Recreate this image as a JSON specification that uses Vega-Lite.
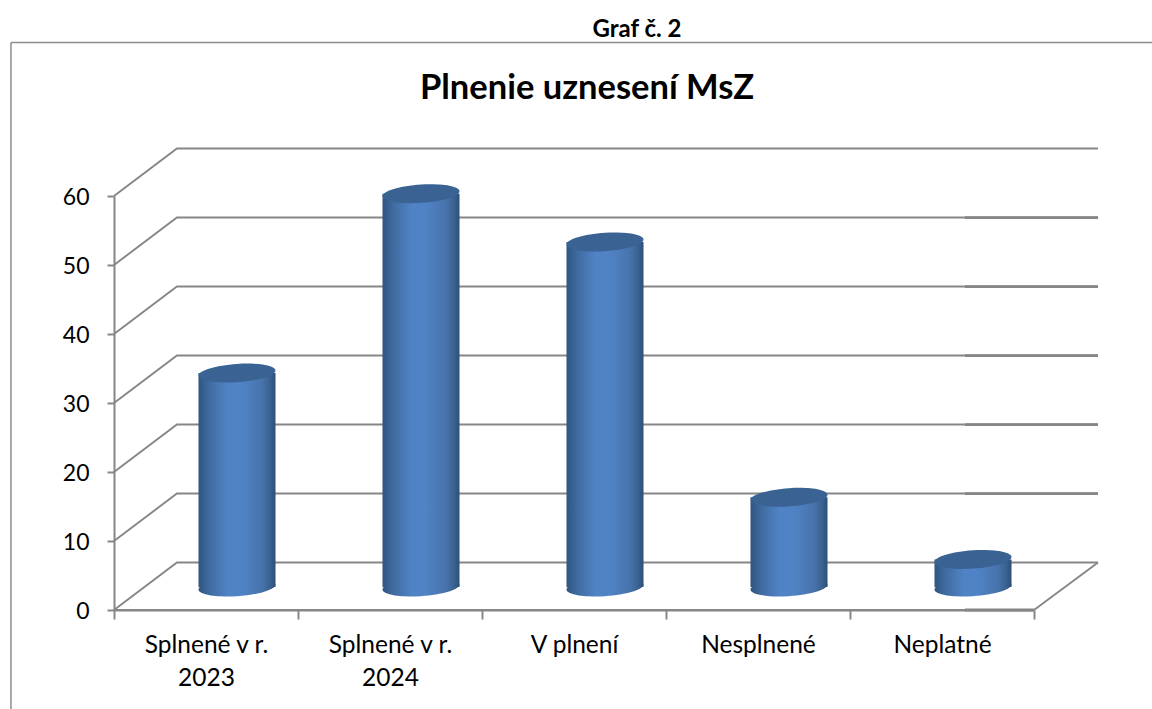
{
"$schema":"https://vega.github.io/schema/vega-lite/v6.json",
"width":920,"height":414,
"autosize":{"type":"none"},
"padding":{"left":114,"top":196,"right":118,"bottom":99},
"background":"white",
"view":{"stroke":null},
"config":{"font":"Lato","scale":{"continuousPadding":0}},
"title":{"text":"Plnenie uznesení MsZ","fontSize":34.5,"fontWeight":"bold","font":"Lato","color":"black","anchor":"middle","dx":13,"offset":-88},
"datasets":{
"hodnoty":[
{"kategoria":"Splnené v r. 2023","pozicia":0.5,"pocet":31},
{"kategoria":"Splnené v r. 2024","pozicia":1.5,"pocet":57},
{"kategoria":"V plnení","pozicia":2.5,"pocet":50},
{"kategoria":"Nesplnené","pozicia":3.5,"pocet":13},
{"kategoria":"Neplatné","pozicia":4.5,"pocet":4}],
"ramec":[
{"s":"horna","x":-0.56,"y":82.25},{"s":"horna","x":5.69,"y":82.25},
{"s":"lava","x":-0.56,"y":82.25},{"s":"lava","x":-0.56,"y":-16}],
"mriezka":[
{"s":"os","x":0,"y":0},{"s":"os","x":5,"y":0},
{"s":"0","x":0,"y":0},{"s":"0","x":0.342,"y":6.88},{"s":"0","x":5.348,"y":6.88},
{"s":"10","x":0,"y":10},{"s":"10","x":0.342,"y":16.88},{"s":"10","x":5.348,"y":16.88},
{"s":"20","x":0,"y":20},{"s":"20","x":0.342,"y":26.88},{"s":"20","x":5.348,"y":26.88},
{"s":"30","x":0,"y":30},{"s":"30","x":0.342,"y":36.88},{"s":"30","x":5.348,"y":36.88},
{"s":"40","x":0,"y":40},{"s":"40","x":0.342,"y":46.88},{"s":"40","x":5.348,"y":46.88},
{"s":"50","x":0,"y":50},{"s":"50","x":0.342,"y":56.88},{"s":"50","x":5.348,"y":56.88},
{"s":"60","x":0,"y":60},{"s":"60","x":0.342,"y":66.88},{"s":"60","x":5.348,"y":66.88},
{"s":"dno","x":5,"y":0},{"s":"dno","x":5.348,"y":6.88}],
"zosilnenie":[
{"s":"0","x":4.625,"y":0},{"s":"0","x":5,"y":0},
{"s":"10","x":4.625,"y":16.88},{"s":"10","x":5.348,"y":16.88},
{"s":"20","x":4.625,"y":26.88},{"s":"20","x":5.348,"y":26.88},
{"s":"30","x":4.625,"y":36.88},{"s":"30","x":5.348,"y":36.88},
{"s":"40","x":4.625,"y":46.88},{"s":"40","x":5.348,"y":46.88},
{"s":"50","x":4.625,"y":56.88},{"s":"50","x":5.348,"y":56.88}],
"nadpis":[{"text":"Graf č. 2","x":2.842,"y":84}]
},
"layer":[
{"data":{"name":"ramec"},
 "mark":{"type":"line","color":"#8c8c8c","strokeWidth":1.5,"clip":false},
 "encoding":{
  "x":{"field":"x","type":"quantitative","scale":{"domain":[0,5],"nice":false,"zero":false,"padding":0},
   "axis":{"title":null,"grid":false,"values":[0,1,2,3,4,5],"domainColor":"#868686","domainWidth":2,"tickColor":"#868686","tickWidth":2,"tickSize":9,
    "labelExpr":"datum.value==0?['Splnené v r.','2023']:datum.value==1?['Splnené v r.','2024']:datum.value==2?'V plnení':datum.value==3?'Nesplnené':datum.value==4?'Neplatné':''",
    "labelOffset":92,"labelFontSize":24.5,"labelColor":"black","labelFont":"Lato","labelPadding":14,"labelLineHeight":33,"labelOverlap":false,"labelBound":false,"labelFlush":false,"labelAlign":"center","labelBaseline":"top"}},
  "y":{"field":"y","type":"quantitative","scale":{"domain":[0,60],"nice":false,"zero":false},
   "axis":{"title":null,"grid":false,"values":[0,10,20,30,40,50,60],"domainColor":"#868686","domainWidth":2,"tickColor":"#868686","tickWidth":2,"tickSize":7,"labelFontSize":23,"labelColor":"black","labelFont":"Lato","labelPadding":18,"labelOffset":1.5,"labelOverlap":false,"labelBound":false,"labelFlush":false}},
  "detail":{"field":"s"}}},
{"data":{"name":"mriezka"},
 "mark":{"type":"line","color":"#868686","strokeWidth":1.9,"clip":false},
 "encoding":{"x":{"field":"x","type":"quantitative"},"y":{"field":"y","type":"quantitative"},"detail":{"field":"s"}}},
{"data":{"name":"zosilnenie"},
 "mark":{"type":"line","color":"#868686","strokeWidth":2.8,"clip":false},
 "encoding":{"x":{"field":"x","type":"quantitative"},"y":{"field":"y","type":"quantitative"},"detail":{"field":"s"}}},
{"data":{"name":"hodnoty"},
 "mark":{"type":"point","filled":true,"opacity":1,"xOffset":31,"yOffset":-23,"size":5929,"strokeWidth":0,
  "shape":"M1 -0.065C1 0.066 0.552 0.202 0 0.238C-0.552 0.274 -1 0.196 -1 0.065C-1 -0.066 -0.552 -0.202 0 -0.238C0.552 -0.274 1 -0.196 1 -0.065Z",
  "fill":{"x1":0,"y1":0,"x2":1,"y2":0,"gradient":"linear","stops":[{"offset":0,"color":"#2e5480"},{"offset":0.13,"color":"#3f6a9f"},{"offset":0.38,"color":"#5083c5"},{"offset":0.55,"color":"#5083c5"},{"offset":0.82,"color":"#4874ad"},{"offset":0.93,"color":"#3a6190"},{"offset":1,"color":"#2f4f78"}]}},
 "encoding":{"x":{"field":"pozicia","type":"quantitative"},"y":{"datum":0,"type":"quantitative"}}},
{"data":{"name":"hodnoty"},
 "mark":{"type":"bar","width":77,"xOffset":31,"yOffset":-23,"y2Offset":-23,
  "fill":{"x1":0,"y1":0,"x2":1,"y2":0,"gradient":"linear","stops":[{"offset":0,"color":"#2e5480"},{"offset":0.13,"color":"#3f6a9f"},{"offset":0.38,"color":"#5083c5"},{"offset":0.55,"color":"#5083c5"},{"offset":0.82,"color":"#4874ad"},{"offset":0.93,"color":"#3a6190"},{"offset":1,"color":"#2f4f78"}]}},
 "encoding":{"x":{"field":"pozicia","type":"quantitative"},"y":{"field":"pocet","type":"quantitative"},"y2":{"datum":0}}},
{"data":{"name":"hodnoty"},
 "mark":{"type":"point","filled":true,"opacity":1,"xOffset":31,"yOffset":-23,"size":5929,"strokeWidth":0,"fill":"#3a6394",
  "shape":"M1 -0.065C1 0.066 0.552 0.202 0 0.238C-0.552 0.274 -1 0.196 -1 0.065C-1 -0.066 -0.552 -0.202 0 -0.238C0.552 -0.274 1 -0.196 1 -0.065Z"},
 "encoding":{"x":{"field":"pozicia","type":"quantitative"},"y":{"field":"pocet","type":"quantitative"}}},
{"data":{"name":"nadpis"},
 "mark":{"type":"text","fontSize":24,"fontWeight":"bold","font":"Lato","color":"black","align":"center","baseline":"middle","clip":false},
 "encoding":{"x":{"field":"x","type":"quantitative"},"y":{"field":"y","type":"quantitative"},"text":{"field":"text"}}}
]
}
